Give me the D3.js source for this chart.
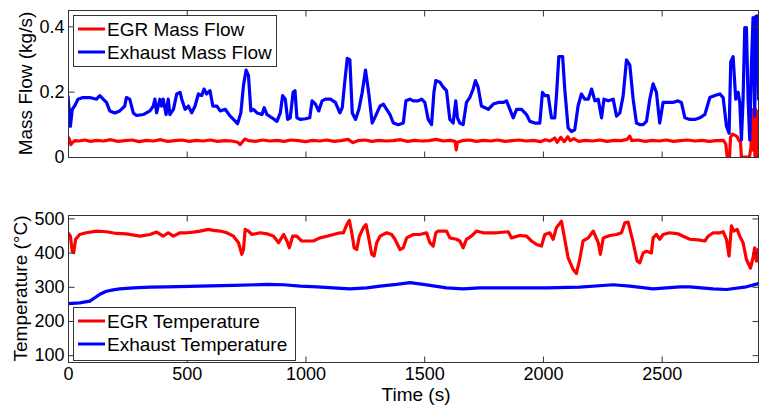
<!DOCTYPE html>
<html>
<head>
<meta charset="utf-8">
<script src="https://cdn.jsdelivr.net/npm/d3@7"></script>
<style>
  body { margin: 0; background: #fff; }
  svg { font-family: "Liberation Sans", Arial, sans-serif; }
</style>
</head>
<body>
<div id="chart"></div>
<script>
// ---- data (time in s) ----
const xTicks = [0, 500, 1000, 1500, 2000, 2500];
const massTicks = [0, 0.2, 0.4];
const tempTicks = [100, 200, 300, 400, 500];

const massLabels = ["EGR Mass Flow", "Exhaust Mass Flow"];
const tempLabels = ["EGR Temperature", "Exhaust Temperature"];

// EGR mass flow (kg/s)
const egrMass = [
  [0,0.062],[6,0.055],[12,0.038],[20,0.045],[30,0.05],[45,0.049],[70,0.052],[95,0.048],[120,0.051],
  [150,0.049],[180,0.053],[210,0.048],[240,0.05],[270,0.052],[300,0.047],[330,0.051],[360,0.049],
  [390,0.053],[420,0.048],[450,0.05],[480,0.052],[510,0.048],[540,0.051],[570,0.049],[600,0.052],
  [630,0.048],[660,0.05],[690,0.049],[715,0.045],[725,0.038],[735,0.047],[745,0.055],[760,0.05],
  [790,0.048],[820,0.052],[850,0.049],[880,0.051],[910,0.048],[940,0.052],[970,0.05],[1000,0.047],
  [1030,0.051],[1060,0.049],[1090,0.052],[1120,0.048],[1150,0.05],[1180,0.054],[1200,0.044],
  [1220,0.05],[1250,0.052],[1280,0.048],[1310,0.051],[1340,0.049],[1370,0.05],[1400,0.053],
  [1430,0.048],[1460,0.051],[1490,0.049],[1520,0.05],[1550,0.054],[1580,0.049],[1610,0.051],
  [1630,0.048],[1635,0.022],[1640,0.045],[1660,0.05],[1690,0.052],[1720,0.048],[1750,0.051],
  [1780,0.049],[1810,0.052],[1840,0.048],[1870,0.05],[1900,0.052],[1930,0.049],[1960,0.051],
  [1990,0.047],[2010,0.053],[2030,0.049],[2050,0.058],[2060,0.045],[2075,0.06],[2090,0.047],
  [2105,0.062],[2115,0.05],[2130,0.056],[2150,0.048],[2180,0.051],[2210,0.049],[2240,0.052],
  [2270,0.048],[2300,0.051],[2330,0.05],[2355,0.054],[2365,0.064],[2375,0.05],[2400,0.052],
  [2430,0.048],[2460,0.051],[2490,0.049],[2520,0.052],[2550,0.048],[2580,0.05],[2610,0.052],
  [2640,0.049],[2670,0.051],[2700,0.048],[2730,0.05],[2760,0.051],[2770,0.04],[2776,0],[2786,0],
  [2790,0.06],[2798,0.07],[2808,0.067],[2818,0.062],[2826,0.05],[2832,0.045],[2836,0],[2870,0],
  [2876,0.03],[2880,0.09],[2884,0.145],[2887,0.02],[2890,0.13],[2893,0],[2896,0.145],[2899,0.03],
  [2902,0.14],[2905,0],[2908,0.12],[2910,0.02]
];

// Exhaust mass flow (kg/s)
const exhMass = [
  [0,0.188],[10,0.094],[18,0.146],[28,0.156],[42,0.177],[63,0.182],[92,0.182],[120,0.177],
  [134,0.188],[148,0.177],[162,0.167],[176,0.141],[197,0.135],[218,0.141],[239,0.156],[246,0.182],
  [260,0.177],[275,0.135],[289,0.127],[317,0.13],[345,0.141],[359,0.156],[366,0.177],[373,0.135],
  [387,0.177],[394,0.156],[401,0.177],[413,0.13],[422,0.177],[429,0.13],[444,0.146],[458,0.193],
  [472,0.198],[479,0.177],[493,0.146],[507,0.156],[521,0.135],[535,0.156],[549,0.193],[563,0.188],
  [573,0.208],[584,0.193],[598,0.203],[610,0.156],[627,0.156],[641,0.141],[662,0.146],[683,0.125],
  [697,0.115],[714,0.102],[728,0.135],[739,0.219],[750,0.266],[760,0.25],[770,0.141],[781,0.146],
  [796,0.135],[817,0.13],[826,0.151],[838,0.13],[859,0.12],[880,0.109],[894,0.135],[904,0.188],
  [915,0.177],[925,0.115],[936,0.12],[948,0.198],[956,0.203],[964,0.12],[979,0.115],[1000,0.117],
  [1018,0.12],[1028,0.172],[1042,0.162],[1056,0.141],[1070,0.172],[1084,0.177],[1105,0.177],
  [1126,0.167],[1145,0.135],[1155,0.151],[1164,0.219],[1176,0.302],[1187,0.297],[1197,0.135],
  [1211,0.115],[1225,0.146],[1239,0.198],[1253,0.266],[1267,0.193],[1281,0.104],[1295,0.125],
  [1314,0.156],[1328,0.162],[1342,0.146],[1356,0.13],[1370,0.104],[1391,0.099],[1412,0.104],
  [1423,0.172],[1440,0.177],[1454,0.172],[1475,0.172],[1489,0.177],[1503,0.167],[1517,0.115],
  [1531,0.099],[1541,0.198],[1549,0.234],[1566,0.229],[1580,0.214],[1594,0.203],[1608,0.115],
  [1622,0.104],[1633,0.172],[1640,0.12],[1650,0.104],[1664,0.099],[1678,0.167],[1692,0.182],
  [1706,0.208],[1716,0.234],[1727,0.214],[1741,0.156],[1756,0.151],[1770,0.146],[1791,0.162],
  [1812,0.167],[1833,0.167],[1847,0.172],[1861,0.146],[1875,0.12],[1889,0.146],[1910,0.146],
  [1931,0.13],[1945,0.109],[1966,0.104],[1987,0.104],[1998,0.198],[2008,0.188],[2022,0.188],
  [2036,0.12],[2050,0.12],[2057,0.188],[2067,0.307],[2083,0.307],[2092,0.208],[2106,0.089],
  [2120,0.078],[2134,0.083],[2148,0.156],[2162,0.193],[2176,0.177],[2191,0.177],[2205,0.208],
  [2219,0.172],[2233,0.177],[2247,0.12],[2257,0.177],[2275,0.172],[2296,0.177],[2310,0.125],
  [2324,0.135],[2338,0.188],[2352,0.297],[2366,0.281],[2380,0.177],[2394,0.104],[2408,0.099],
  [2422,0.099],[2436,0.109],[2450,0.177],[2464,0.224],[2478,0.198],[2492,0.104],[2506,0.167],
  [2527,0.167],[2548,0.167],[2569,0.172],[2583,0.167],[2598,0.12],[2619,0.115],[2640,0.115],
  [2661,0.12],[2682,0.13],[2703,0.182],[2724,0.188],[2745,0.193],[2759,0.182],[2773,0.094],
  [2784,0.073],[2791,0.292],[2801,0.307],[2812,0.177],[2822,0.198],[2829,0.167],[2836,0.052],
  [2843,0.177],[2850,0.396],[2857,0.396],[2864,0.177],[2871,0.052],[2878,0.281],[2885,0.427],
  [2892,0.125],[2896,0.43],[2902,0.432],[2908,0.177],[2912,0.386]
];

// EGR temperature (°C)
const egrTemp = [
  [0,458],[10,448],[18,404],[24,400],[32,439],[49,453],[77,458],[120,463],[162,461],[204,456],
  [246,455],[303,448],[345,453],[373,460],[401,448],[422,458],[444,448],[472,458],[500,458],
  [528,460],[556,463],[591,468],[612,465],[641,463],[669,458],[697,448],[718,429],[732,395],
  [739,409],[746,468],[760,463],[774,453],[810,458],[838,455],[866,448],[887,429],[908,453],
  [922,434],[932,414],[946,448],[963,448],[984,434],[1005,434],[1033,434],[1061,443],[1090,448],
  [1118,453],[1146,458],[1160,458],[1174,482],[1185,494],[1195,458],[1205,414],[1216,409],
  [1227,448],[1244,473],[1255,482],[1265,448],[1279,395],[1289,390],[1300,429],[1314,448],
  [1342,458],[1363,453],[1377,439],[1398,409],[1412,414],[1426,443],[1454,453],[1482,453],
  [1510,458],[1524,429],[1538,419],[1549,458],[1559,463],[1594,463],[1608,443],[1636,439],
  [1650,434],[1664,414],[1678,439],[1699,448],[1720,463],[1748,458],[1777,458],[1805,458],
  [1854,461],[1868,443],[1903,450],[1931,448],[1952,434],[1973,424],[1994,419],[2008,453],
  [2029,458],[2043,439],[2057,473],[2078,492],[2092,439],[2106,385],[2127,351],[2141,339],
  [2155,380],[2169,434],[2191,443],[2212,463],[2233,429],[2242,395],[2254,443],[2282,450],
  [2310,453],[2331,458],[2345,487],[2359,489],[2377,439],[2397,375],[2408,370],[2422,399],
  [2436,404],[2457,399],[2464,443],[2478,453],[2492,439],[2506,453],[2534,458],[2569,455],
  [2590,448],[2619,439],[2654,437],[2682,434],[2696,448],[2717,458],[2745,458],[2759,461],
  [2773,439],[2784,390],[2794,478],[2804,463],[2818,468],[2829,448],[2843,429],[2857,380],
  [2874,355],[2885,385],[2892,414],[2899,375],[2906,409],[2912,380]
];

// Exhaust temperature (°C)
const exhTemp = [
  [0,251],[49,253],[92,258],[113,268],[134,278],[162,287],[190,291],[218,294],[275,297],[345,299],
  [415,300],[556,302],[697,304],[838,307],[908,306],[979,302],[1049,300],[1118,297],[1187,294],
  [1258,297],[1314,302],[1384,307],[1440,312],[1496,307],[1594,297],[1664,294],[1734,297],
  [1875,297],[2015,297],[2155,299],[2296,306],[2366,302],[2464,294],[2577,300],[2619,300],
  [2717,294],[2773,292],[2857,300],[2912,310]
];

// ---- layout ----
const W = 760, H = 405;
const left = 68, right = 759;
const topPanel = {y0: 10, y1: 157};
const botPanel = {y0: 215, y1: 362};
const red = "#ff0000", blue = "#0000ff";
const axisColor = "#333";

const svg = d3.select("#chart").append("svg")
  .attr("width", W).attr("height", H);

const x = d3.scaleLinear().domain([0, 2910]).range([left, right]);

function panel(p, yDomain, yTicks, yFmt, series, labels, yLabel, yLabelX, legendBox, showX) {
  const y = d3.scaleLinear().domain(yDomain).range([p.y1, p.y0]);
  const id = "clip" + p.y0;
  svg.append("clipPath").attr("id", id).append("rect")
    .attr("x", left).attr("y", p.y0).attr("width", right - left).attr("height", p.y1 - p.y0);

  const line = d3.line().x(d => x(d[0])).y(d => y(d[1]));
  const g = svg.append("g").attr("clip-path", `url(#${id})`);
  series.forEach(s => {
    g.append("path").datum(s.data)
      .attr("d", line)
      .attr("fill", "none")
      .attr("stroke", s.color)
      .attr("stroke-width", 3.2)
      .attr("stroke-linejoin", "round");
  });

  // box
  svg.append("rect")
    .attr("x", left + 0.5).attr("y", p.y0 + 0.5)
    .attr("width", right - left - 1).attr("height", p.y1 - p.y0)
    .attr("fill", "none").attr("stroke", axisColor).attr("stroke-width", 1);

  const tk = 6;
  const bottomAx = svg.append("g").attr("transform", `translate(0,${p.y1 + 0.5})`)
    .call(d3.axisBottom(x).tickValues(xTicks).tickSizeInner(-tk).tickSizeOuter(0).tickPadding(5)
      .tickFormat(showX ? d3.format("d") : ""));
  const topAx = svg.append("g").attr("transform", `translate(0,${p.y0 + 0.5})`)
    .call(d3.axisTop(x).tickValues(xTicks).tickSizeInner(-tk).tickSizeOuter(0).tickFormat(""));
  const leftAx = svg.append("g").attr("transform", `translate(${left + 0.5},0)`)
    .call(d3.axisLeft(y).tickValues(yTicks).tickSizeInner(-tk).tickSizeOuter(0).tickPadding(4)
      .tickFormat(yFmt));
  const rightAx = svg.append("g").attr("transform", `translate(${right - 0.5},0)`)
    .call(d3.axisRight(y).tickValues(yTicks).tickSizeInner(-tk).tickSizeOuter(0).tickFormat(""));
  [bottomAx, topAx, leftAx, rightAx].forEach(a => {
    a.select(".domain").remove();
    a.selectAll("line").attr("stroke", axisColor);
    a.selectAll("text").attr("fill", "#000").style("font-size", "18px")
      .style("font-family", "'Liberation Sans', Arial, sans-serif");
  });

  svg.append("text")
    .attr("transform", `translate(${yLabelX},${(p.y0 + p.y1) / 2}) rotate(-90)`)
    .attr("text-anchor", "middle").attr("dominant-baseline", "central")
    .style("font-size", "19px").text(yLabel);

  // legend
  const lg = svg.append("g");
  lg.append("rect")
    .attr("x", legendBox.x + 0.5).attr("y", legendBox.y + 0.5)
    .attr("width", legendBox.w).attr("height", legendBox.h)
    .attr("fill", "#fff").attr("stroke", axisColor);
  series.forEach((s, i) => {
    const cy = legendBox.y + 14 + i * 23;
    lg.append("line").attr("x1", legendBox.x + 5).attr("x2", legendBox.x + 32)
      .attr("y1", cy).attr("y2", cy).attr("stroke", s.color).attr("stroke-width", 3);
    lg.append("text").attr("x", legendBox.x + 34).attr("y", cy)
      .attr("dominant-baseline", "central").style("font-size", "19px").text(labels[i]);
  });
  return y;
}

panel(topPanel, [0, 0.45], massTicks, d => d === 0 ? "0" : d3.format(".1f")(d),
  [{data: egrMass, color: red}, {data: exhMass, color: blue}],
  massLabels, "Mass Flow (kg/s)", 25, {x: 73, y: 15, w: 203, h: 51}, false);

panel(botPanel, [80, 510], tempTicks, d3.format("d"),
  [{data: egrTemp, color: red}, {data: exhTemp, color: blue}],
  tempLabels, "Temperature (\u00B0C)", 20, {x: 73, y: 307, w: 222, h: 53}, true);

svg.append("text")
  .attr("x", 416).attr("y", 401)
  .attr("text-anchor", "middle")
  .style("font-size", "19px").text("Time (s)");
</script>
</body>
</html>
